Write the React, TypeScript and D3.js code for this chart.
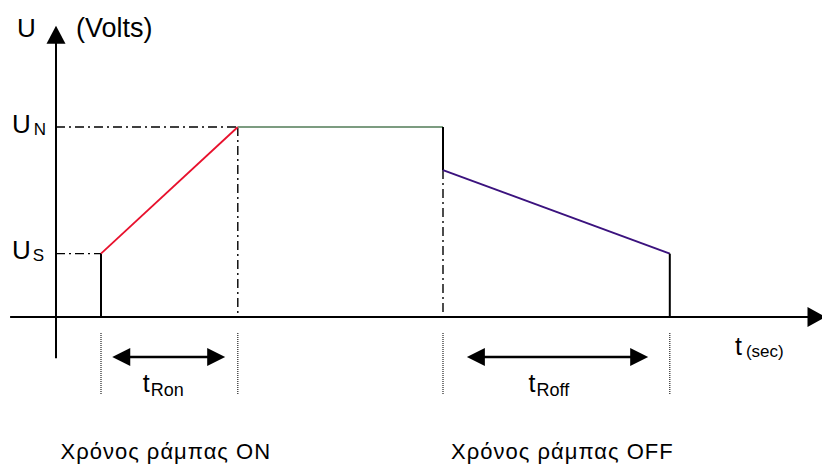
import React from "react";
import * as d3 from "d3";

// time points (arbitrary units) and voltage levels
const tStart = 1;
const tRonEnd = 4.04;
const tRoffStart = 8.6;
const tRoffEnd = 13.64;

const uS = 1;
const uN = 3;
const uOffStep = 2.32;
const uEnd = 1;

const rampOn = [
  { t: tStart, u: uS },
  { t: tRonEnd, u: uN },
];
const plateau = [
  { t: tRonEnd, u: uN },
  { t: tRoffStart, u: uN },
];
const rampOff = [
  { t: tRoffStart, u: uOffStep },
  { t: tRoffEnd, u: uEnd },
];

// double arrows under the axis, in time units
const spanArrows = [
  { from: 1.25, to: 3.76, label: "Ron", textT: 1.93 },
  { from: 9.13, to: 13.16, label: "Roff", textT: 10.5 },
];
const markerTimes = [tStart, tRonEnd, tRoffStart, tRoffEnd];
const captions = [
  { t: 0.1, text: "Χρόνος ράμπας ON" },
  { t: 8.78, text: "Χρόνος ράμπας OFF" },
];

const W = 822;
const H = 464;
const FONT = "'Liberation Sans', Arial, Helvetica, sans-serif";

const x = d3.scaleLinear().domain([0, 1]).range([56, 101]);
const y = d3.scaleLinear().domain([0, 1]).range([317, 253.67]);

const line = d3
  .line<{ t: number; u: number }>()
  .x((d) => x(d.t))
  .y((d) => y(d.u));

const arrowHead = (tipX: number, tipY: number, dir: number, len = 18, half = 9) =>
  `M${tipX},${tipY}L${tipX - dir * len},${tipY - half}L${tipX - dir * len},${tipY + half}Z`;

const App = () => {
  const x0 = x(0);
  const y0 = y(0);
  const xAxisEnd = x(17.1);
  const yAxisTop = y(4.6);
  const dashDot = "9 4 2 4";
  const arrowY = 357;

  return (
    <svg
      width={W}
      height={H}
      style={{ position: "absolute", left: 0, top: 0, background: "#fff" }}
      fontFamily={FONT}
    >
      {/* axes */}
      <line x1={x(-1.02)} x2={xAxisEnd - 10} y1={y0} y2={y0} stroke="#000" strokeWidth={2} />
      <path d={arrowHead(xAxisEnd, y0, 1, 18, 10)} fill="#000" />
      <line x1={x0} x2={x0} y1={y(-0.65)} y2={yAxisTop + 10} stroke="#000" strokeWidth={2} />
      <path d={`M${x0},${yAxisTop}L${x0 - 9.5},${yAxisTop + 18}L${x0 + 9.5},${yAxisTop + 18}Z`} fill="#000" />

      {/* dash-dot guide lines */}
      <line x1={x0} x2={x(tRonEnd)} y1={y(uN)} y2={y(uN)} stroke="#000" strokeWidth={1.4} strokeDasharray={dashDot} />
      <line x1={x0} x2={x(tStart)} y1={y(uS)} y2={y(uS)} stroke="#000" strokeWidth={1.4} strokeDasharray={dashDot} />
      <line x1={x(tRonEnd)} x2={x(tRonEnd)} y1={y(uN)} y2={y0} stroke="#000" strokeWidth={1.4} strokeDasharray={dashDot} />
      <line x1={x(tRoffStart)} x2={x(tRoffStart)} y1={y(uOffStep)} y2={y0} stroke="#000" strokeWidth={1.4} strokeDasharray={dashDot} />

      {/* dotted markers below axis */}
      {markerTimes.map((t, i) => (
        <line key={i} x1={x(t)} x2={x(t)} y1={333} y2={395} stroke="#222" strokeWidth={1.2} strokeDasharray="1 1" />
      ))}

      {/* voltage profile */}
      <line x1={x(tStart)} x2={x(tStart)} y1={y0} y2={y(uS)} stroke="#000" strokeWidth={2} />
      <path d={line(rampOn) ?? ""} stroke="#e8102c" strokeWidth={1.8} fill="none" />
      <path d={line(plateau) ?? ""} stroke="#7c9c80" strokeWidth={2} fill="none" />
      <line x1={x(tRoffStart)} x2={x(tRoffStart)} y1={y(uN)} y2={y(uOffStep)} stroke="#000" strokeWidth={2} />
      <path d={line(rampOff) ?? ""} stroke="#3b127e" strokeWidth={2} fill="none" />
      <line x1={x(tRoffEnd)} x2={x(tRoffEnd)} y1={y(uEnd)} y2={y0} stroke="#000" strokeWidth={2} />

      {/* span arrows */}
      {spanArrows.map((a) => (
        <g key={a.label}>
          <line x1={x(a.from) + 12} x2={x(a.to) - 12} y1={arrowY} y2={arrowY} stroke="#000" strokeWidth={2.5} />
          <path d={arrowHead(x(a.from), arrowY, -1)} fill="#000" />
          <path d={arrowHead(x(a.to), arrowY, 1)} fill="#000" />
          <text x={x(a.textT)} y={392} fontSize={25} fill="#000">
            t<tspan fontSize={18} dx={1} dy={4}>{a.label}</tspan>
          </text>
        </g>
      ))}

      {/* axis labels */}
      <text x={17} y={37} fontSize={26} fill="#000">U</text>
      <text x={76} y={37} fontSize={27} fill="#000">(Volts)</text>
      <text x={12} y={133} fontSize={26} fill="#000">
        U<tspan fontSize={17} dx={3} dy={2}>N</tspan>
      </text>
      <text x={12} y={259} fontSize={26} fill="#000">
        U<tspan fontSize={17} dx={2} dy={2}>S</tspan>
      </text>
      <text x={735} y={355} fontSize={25} fill="#000">
        t<tspan fontSize={17} dx={4} dy={2}>(sec)</tspan>
      </text>

      {/* captions */}
      {captions.map((c) => (
        <text key={c.text} x={x(c.t)} y={459} fontSize={22} letterSpacing={1} fill="#000">
          {c.text}
        </text>
      ))}
    </svg>
  );
};

export default App;
